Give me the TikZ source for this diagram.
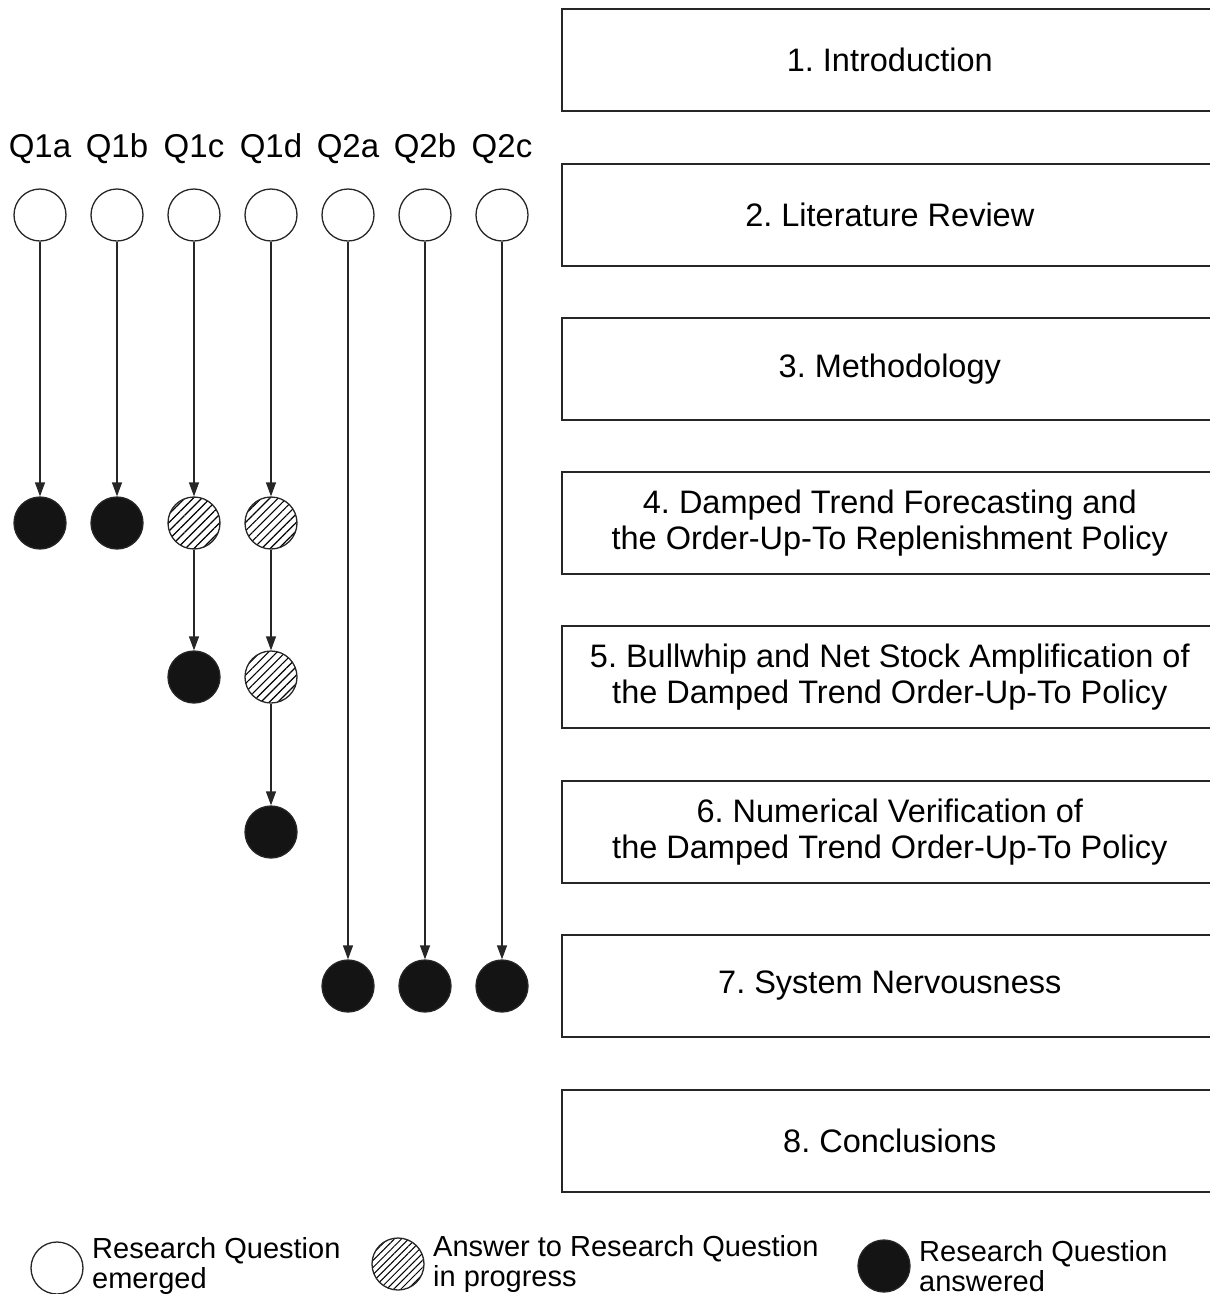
\documentclass[tikz,border=0pt]{standalone}
\usepackage{fontspec}
\setmainfont{Liberation Sans}
\usetikzlibrary{arrows.meta,patterns.meta}
\frenchspacing
\begin{document}
\begin{tikzpicture}[x=1pt,y=-1pt,
  secbox/.style={draw=black!85, line width=1.6pt, minimum width=656pt, minimum height=102pt,
    anchor=west, align=center, inner sep=0pt, font=\fontsize{32.5}{36}\selectfont},
  qlabel/.style={inner sep=0pt, font=\fontsize{33}{36}\selectfont},
  qopen/.style={circle, draw=black!85, line width=1.3pt, minimum size=52pt, inner sep=0pt},
  qprog/.style={qopen, pattern={Lines[angle=45,distance=6pt,line width=1.2pt]}},
  qdone/.style={qopen, fill=black!92},
  arr/.style={draw=black!85, line width=1.3pt, -{Triangle[width=10pt,length=14pt]}},
  legtext/.style={anchor=west, align=left, inner sep=0pt, font=\fontsize{29}{30}\selectfont}]
\useasboundingbox (0,0) rectangle (1210,1294);

% section boxes
\node[secbox] (s1) at (561,60) {1. Introduction};
\node[secbox] (s2) at (561,215) {2. Literature Review};
\node[secbox] (s3) at (561,369) {3. Methodology};
\node[secbox] (s4) at (561,523) {4. Damped Trend Forecasting and\\the Order-Up-To Replenishment Policy};
\node[secbox] (s5) at (561,677) {5. Bullwhip and Net Stock Amplification of\\the Damped Trend Order-Up-To Policy};
\node[secbox] (s6) at (561,832) {6. Numerical Verification of\\the Damped Trend Order-Up-To Policy};
\node[secbox] (s7) at (561,986) {7. System Nervousness};
\node[secbox] (s8) at (561,1141) {8. Conclusions};

% question labels
\node[qlabel] (l1a) at (40,149) {Q1a};
\node[qlabel] (l1b) at (117,149) {Q1b};
\node[qlabel] (l1c) at (194,149) {Q1c};
\node[qlabel] (l1d) at (271,149) {Q1d};
\node[qlabel] (l2a) at (348,149) {Q2a};
\node[qlabel] (l2b) at (425,149) {Q2b};
\node[qlabel] (l2c) at (502,149) {Q2c};

% emerged circles
\node[qopen] (e1a) at (40,215) {};
\node[qopen] (e1b) at (117,215) {};
\node[qopen] (e1c) at (194,215) {};
\node[qopen] (e1d) at (271,215) {};
\node[qopen] (e2a) at (348,215) {};
\node[qopen] (e2b) at (425,215) {};
\node[qopen] (e2c) at (502,215) {};

% chapter 4
\node[qdone] (a1a) at (40,523) {};
\node[qdone] (a1b) at (117,523) {};
\node[qprog] (p1c) at (194,523) {};
\node[qprog] (p1d) at (271,523) {};
% chapter 5
\node[qdone] (a1c) at (194,677) {};
\node[qprog] (p1d5) at (271,677) {};
% chapter 6
\node[qdone] (a1d) at (271,832) {};
% chapter 7
\node[qdone] (a2a) at (348,986) {};
\node[qdone] (a2b) at (425,986) {};
\node[qdone] (a2c) at (502,986) {};

% arrows
\draw[arr] (e1a) -- (a1a);
\draw[arr] (e1b) -- (a1b);
\draw[arr] (e1c) -- (p1c);
\draw[arr] (p1c) -- (a1c);
\draw[arr] (e1d) -- (p1d);
\draw[arr] (p1d) -- (p1d5);
\draw[arr] (p1d5) -- (a1d);
\draw[arr] (e2a) -- (a2a);
\draw[arr] (e2b) -- (a2b);
\draw[arr] (e2c) -- (a2c);

% legend
\node[qopen] (k1) at (57,1268) {};
\node[legtext] (t1) at (92,1266) {Research Question\\emerged};
\node[qopen, pattern={Lines[angle=45,distance=5pt,line width=1pt]}] (k2) at (398,1264) {};
\node[legtext] (t2) at (433,1264) {Answer to Research Question\\in progress};
\node[qdone] (k3) at (884,1266) {};
\node[legtext] (t3) at (919,1266) {Research Question\\answered};
\end{tikzpicture}
\end{document}
